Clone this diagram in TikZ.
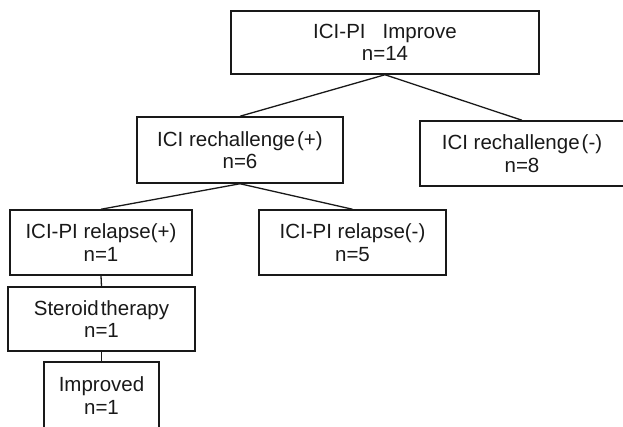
\documentclass[tikz,border=0pt]{standalone}
\usepackage{fontspec}
\setmainfont{Liberation Sans}
\begin{document}
\begin{tikzpicture}[x=1pt,y=-1pt,
  box/.style={draw=black!90,line width=1.5pt,rectangle,inner sep=0pt,align=center,
    text=black!90,font=\fontsize{20.5}{22.5}\selectfont},
  link/.style={draw=black!90,line width=1.3pt}]
\useasboundingbox (0,0) rectangle (623,427);
\node[box,minimum width=308pt,minimum height=63pt] (top) at (385,42.5) {ICI-PI~~~Improve\\n=14};
\node[box,minimum width=206pt,minimum height=66pt] (plus) at (240,150) {ICI rechallenge\hspace{2pt}(+)\\n=6};
\node[box,minimum width=204pt,minimum height=65pt] (minus) at (522,153.5) {ICI rechallenge\hspace{2pt}(-)\\n=8};
\node[box,minimum width=182pt,minimum height=65pt] (relP) at (101,242.5) {ICI-PI relapse(+)\\n=1};
\node[box,minimum width=187pt,minimum height=65pt] (relM) at (352.5,242.5) {ICI-PI relapse(-)\\n=5};
\node[box,minimum width=187pt,minimum height=64pt] (ster) at (101.5,319) {Steroid\hspace{2pt}therapy\\n=1};
\node[box,minimum width=115pt,minimum height=67pt] (impr) at (101.5,395.5) {Improved\\n=1};
\draw[link] (top.south) -- (plus.north);
\draw[link] (top.south) -- (minus.north);
\draw[link] (plus.south) -- (relP.north);
\draw[link] (plus.south) -- (relM.north);
\draw[link] (relP.south) -- (ster.north);
\draw[link] (ster.south) -- (impr.north);
\end{tikzpicture}
\end{document}
